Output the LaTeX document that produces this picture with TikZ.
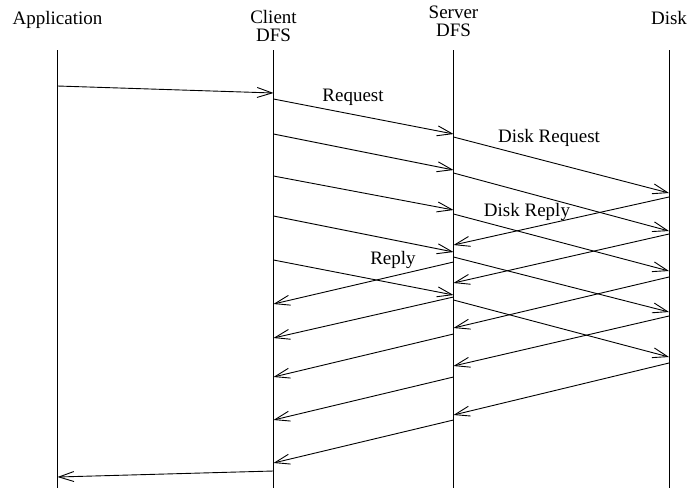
\documentclass[tikz,border=0pt]{standalone}
\usepackage{fontspec}
\setmainfont{Liberation Serif}
\usetikzlibrary{arrows.meta}
\begin{document}
\begin{tikzpicture}[x=1pt,y=-1pt,
  msg/.style={line width=0.9pt,-{Straight Barb[length=15pt,width=10pt,line width=0.9pt]}},
  life/.style={line width=0.9pt},
  lbl/.style={font=\fontsize{19}{18}\selectfont,inner sep=0pt,anchor=base},
  head/.style={lbl,align=center}]
\useasboundingbox (0,0) rectangle (689,488);
% headers (base anchor = baseline of the last line)
\node[head] (happ) at (57.5,24.5) {Application};
\node[head] (hcli) at (273.5,41) {Client\\DFS};
\node[head] (hsrv) at (453.5,36.5) {Server\\DFS};
\node[head] (hdsk) at (669,24) {Disk};
% lifelines
\coordinate (At) at (57.5,50);  \coordinate (Ab) at (57.5,488);
\coordinate (Ct) at (273.5,50); \coordinate (Cb) at (273.5,488);
\coordinate (St) at (453.5,50); \coordinate (Sb) at (453.5,488);
\coordinate (Dt) at (669,50);   \coordinate (Db) at (669,488);
\draw[life] (At) -- (Ab);
\draw[life] (Ct) -- (Cb);
\draw[life] (St) -- (Sb);
\draw[life] (Dt) -- (Db);
% application -> client
\coordinate (a0) at (57.5,86);  \coordinate (c0) at (273.5,93);
\draw[msg] (a0) -- (c0);
% client -> server requests
\foreach \i/\ys/\ye in {1/99/134,2/134/170,3/176/210,4/216/252,5/260/295}{
  \coordinate (cq\i) at (273.5,\ys); \coordinate (sq\i) at (453.5,\ye);
  \draw[msg] (cq\i) -- (sq\i);
}
% server -> disk requests
\foreach \i/\ys/\ye in {1/137/193,2/173/231,3/214/271,4/257/312,5/300/357}{
  \coordinate (sd\i) at (453.5,\ys); \coordinate (dd\i) at (669,\ye);
  \draw[msg] (sd\i) -- (dd\i);
}
% disk -> server replies
\foreach \i/\ys/\ye in {1/197/245,2/234/283,3/277/328,4/316/366,5/363/415}{
  \coordinate (dr\i) at (669,\ys); \coordinate (sr\i) at (453.5,\ye);
  \draw[msg] (dr\i) -- (sr\i);
}
% server -> client replies
\foreach \i/\ys/\ye in {1/262/304,2/297/338,3/334/377,4/377/420,5/420/463}{
  \coordinate (sc\i) at (453.5,\ys); \coordinate (cc\i) at (273.5,\ye);
  \draw[msg] (sc\i) -- (cc\i);
}
% client -> application
\coordinate (cf) at (273.5,471); \coordinate (af) at (57.5,477);
\draw[msg] (cf) -- (af);
% labels
\node[lbl] (lreq) at (353,101) {Request};
\node[lbl] (ldreq) at (549,142) {Disk Request};
\node[lbl] (ldrep) at (527,216) {Disk Reply};
\node[lbl] (lrep) at (393,264) {Reply};
\end{tikzpicture}
\end{document}
